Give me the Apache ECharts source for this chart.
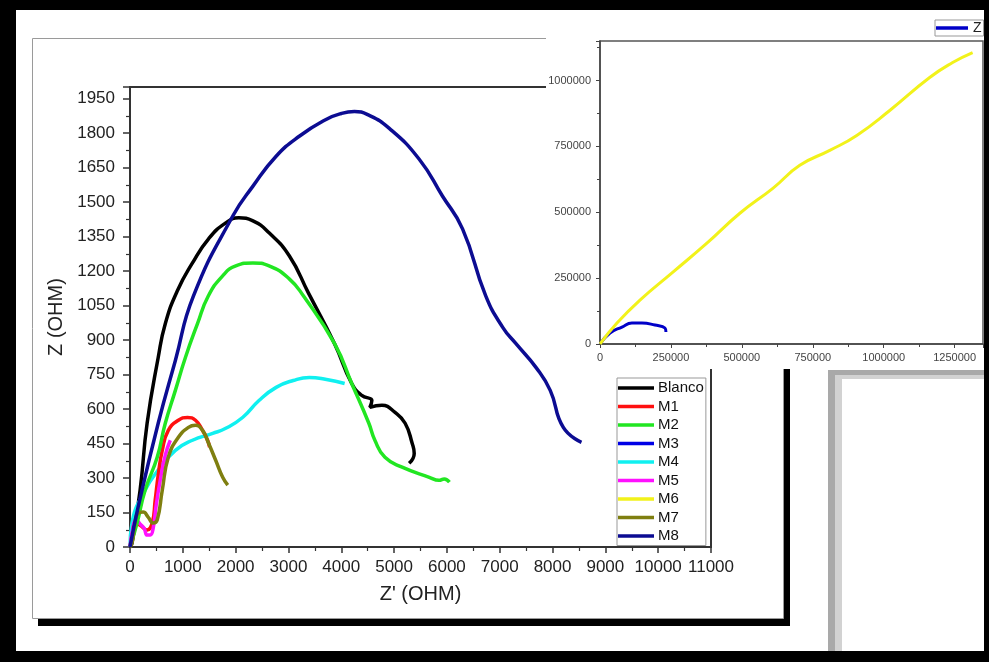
<!DOCTYPE html>
<html><head><meta charset="utf-8">
<script src="https://cdn.jsdelivr.net/npm/echarts@6/dist/echarts.min.js"></script>
<style>html,body{margin:0;padding:0;background:#000}#c{width:989px;height:662px}</style>
</head><body><div id="c"></div>
<script>
// ---- data (Z' , Z) in OHM ----
const legendNames = ['Blanco','M1','M2','M3','M4','M5','M6','M7','M8'];
const blanco = [[0,0],[38,17],[191,247],[324,538],[534,824],[668,971],[897,1114],[1183,1235],[1488,1340],[1813,1409],[2061,1431],[2328,1418],[2633,1366],[3015,1266],[3377,1105],[3873,884],[4198,711],[4388,659],[4579,637],[4541,607],[4770,616],[5018,585],[5209,538],[5342,451],[5381,407],[5285,364]];
const m1 = [[0,0],[57,74],[95,104],[191,95],[324,74],[420,104],[477,204],[534,312],[611,420],[725,507],[916,551],[1088,563],[1240,551],[1374,507],[1469,464],[1507,434]];
const m2 = [[0,0],[134,104],[286,247],[515,390],[668,538],[859,681],[1049,824],[1278,971],[1480,1090],[1755,1179],[2003,1222],[2328,1235],[2633,1222],[3015,1166],[3282,1092],[3873,884],[4198,711],[4522,538],[4636,464],[4827,390],[5152,347],[5667,303],[5850,290],[5950,296],[6048,282]];
const m3 = [];
const m4 = [[0,0],[38,104],[286,247],[534,334],[859,420],[1183,464],[1565,494],[1813,516],[2137,564],[2442,637],[2767,694],[3091,724],[3396,737],[3721,728],[4064,711]];
const m5 = [[0,0],[57,82],[114,117],[191,100],[267,82],[324,52],[382,52],[439,82],[496,182],[572,290],[668,399],[763,464]];
const m7 = [[0,0],[38,17],[95,104],[153,147],[248,152],[343,130],[439,104],[515,117],[611,247],[725,390],[916,477],[1107,520],[1240,529],[1374,507],[1488,451],[1622,377],[1755,303],[1851,269]];
const m8 = [[0,0],[153,173],[534,538],[859,811],[1202,1092],[1946,1439],[2328,1569],[2767,1699],[3205,1786],[3721,1860],[4000,1885],[4250,1893],[4500,1880],[4904,1821],[5476,1686],[5915,1526],[6296,1383],[6735,1092],[7060,954],[7308,884],[7689,780],[7956,681],[8204,520],[8548,455]];
// inset (large scale)
const m6 = [[0,0],[59860,79545],[140845,166667],[257042,272727],[376761,382576],[492958,496212],[609155,590909],[704225,678030],[809859,734848],[904930,791667],[1021127,886364],[1161972,1011364],[1242958,1068182],[1313380,1106061]];
const zInset = [[0,0],[35211,41667],[77465,64394],[112676,79545],[147887,79545],[193662,71970],[228873,60606],[232394,45455]];
const insetLegend = ['Z'];

const colors = {Blanco:'#000000',M1:'#ff1010',M2:'#22e622',M3:'#0000e6',M4:'#10f0f0',M5:'#ff10ff',M6:'#f2f21a',M7:'#7f7f10',M8:'#0c0c92',Z:'#0000c8'};
const FONT = "'Liberation Sans', Arial, sans-serif";
const plain = v => String(v);

function ln(name, data, gi, width, z){
  return {type:'line', name, data, xAxisIndex:gi, yAxisIndex:gi, symbol:'none', showSymbol:false,
    smooth:0.5, lineStyle:{color:colors[name], width}, itemStyle:{color:colors[name]}, z, animation:false};
}

const chart = echarts.init(document.getElementById('c'), null, {renderer:'canvas'});
chart.setOption({
  backgroundColor:'#000',
  animation:false,
  graphic:{elements:[
    {type:'rect', shape:{x:16,y:10,width:968,height:641}, style:{fill:'#fff'}, z:-20},
    {type:'rect', shape:{x:38,y:618,width:752,height:8}, style:{fill:'#000'}, z:-15},
    {type:'rect', shape:{x:783,y:44,width:7,height:582}, style:{fill:'#000'}, z:-15},
    {type:'rect', shape:{x:32.5,y:38.5,width:751,height:580}, style:{fill:'#fff', stroke:'#9a9a9a', lineWidth:1}, z:-12},
    {type:'rect', shape:{x:828,y:370,width:156,height:281}, style:{fill:'#a9a9a9'}, z:-15},
    {type:'rect', shape:{x:835,y:375,width:149,height:276}, style:{fill:'#d2d2d2'}, z:-14},
    {type:'rect', shape:{x:842,y:379,width:142,height:272}, style:{fill:'#fff'}, z:-13},
    {type:'rect', shape:{x:546,y:11,width:438,height:358}, style:{fill:'#fff'}, z:5}
  ]},
  grid:[
    {left:130, right:278, top:87, bottom:115, show:true, borderColor:'#333', borderWidth:2, backgroundColor:'transparent'},
    {left:600, right:6, top:41, bottom:318, show:true, borderColor:'#555', borderWidth:1.5, backgroundColor:'transparent', z:20}
  ],
  xAxis:[
    {type:'value', gridIndex:0, min:0, max:11000, interval:1000,
     name:"Z' (OHM)", nameLocation:'middle', nameGap:37, nameTextStyle:{fontFamily:FONT, fontSize:20, color:'#222'},
     axisLine:{lineStyle:{color:'#333', width:2}}, axisTick:{inside:false, length:6, lineStyle:{color:'#333', width:1.5}},
     minorTick:{show:true, splitNumber:2, length:4, lineStyle:{color:'#333', width:1.2}},
     splitLine:{show:false}, axisLabel:{fontFamily:FONT, fontSize:17, color:'#222', margin:12, formatter:plain}},
    {type:'value', gridIndex:1, min:0, max:1350000, interval:250000, z:20,
     axisLine:{lineStyle:{color:'#444', width:1.5}}, axisTick:{length:4, lineStyle:{color:'#444'}},
     minorTick:{show:true, splitNumber:2, length:3, lineStyle:{color:'#444'}},
     splitLine:{show:false}, axisLabel:{fontFamily:FONT, fontSize:11, color:'#444', margin:8, showMaxLabel:false, formatter:plain}}
  ],
  yAxis:[
    {type:'value', gridIndex:0, min:0, max:2000, interval:150,
     name:'Z (OHM)', nameLocation:'middle', nameGap:62, nameRotate:90, nameTextStyle:{fontFamily:FONT, fontSize:20, color:'#222'},
     axisLine:{lineStyle:{color:'#333', width:2}}, axisTick:{length:7, lineStyle:{color:'#333', width:1.5}},
     minorTick:{show:true, splitNumber:2, length:4, lineStyle:{color:'#333', width:1.2}},
     splitLine:{show:false}, axisLabel:{fontFamily:FONT, fontSize:17, color:'#222', margin:15, showMaxLabel:false, formatter:plain}},
    {type:'value', gridIndex:1, min:0, max:1150000, interval:250000, z:20,
     axisLine:{lineStyle:{color:'#444', width:1.5}}, axisTick:{length:4, lineStyle:{color:'#444'}},
     minorTick:{show:true, splitNumber:2, length:3, lineStyle:{color:'#444'}},
     splitLine:{show:false}, axisLabel:{fontFamily:FONT, fontSize:11, color:'#444', margin:9, showMaxLabel:false, formatter:plain}}
  ],
  legend:[
    {data:legendNames, orient:'vertical', left:617, top:378, icon:'rect', itemWidth:36, itemHeight:3.5, itemGap:3.5,
     padding:[2.5,2,2,1], borderColor:'#999', borderWidth:1, backgroundColor:'#fff',
     textStyle:{fontFamily:FONT, fontSize:15, color:'#111', padding:[0,0,0,-1]}, selectedMode:false, z:10},
    {data:insetLegend, orient:'vertical', left:935, top:20, icon:'rect', itemWidth:32, itemHeight:3.5,
     padding:[1,2,1,1], borderColor:'#999', borderWidth:1, backgroundColor:'#fff',
     textStyle:{fontFamily:FONT, fontSize:14, color:'#222'}, selectedMode:false, z:25}
  ],
  series:[
    ln('Blanco', blanco, 0, 3.5, 2),
    ln('M4', m4, 0, 3.5, 2),
    ln('M3', m3, 0, 3.5, 2),
    ln('M1', m1, 0, 3.5, 2),
    ln('M5', m5, 0, 3.5, 2),
    ln('M2', m2, 0, 3.5, 2),
    ln('M7', m7, 0, 3.5, 2),
    ln('M8', m8, 0, 3.5, 2),
    ln('Z', zInset, 1, 3, 20),
    ln('M6', m6, 1, 3, 21)
  ]
});
</script></body></html>
